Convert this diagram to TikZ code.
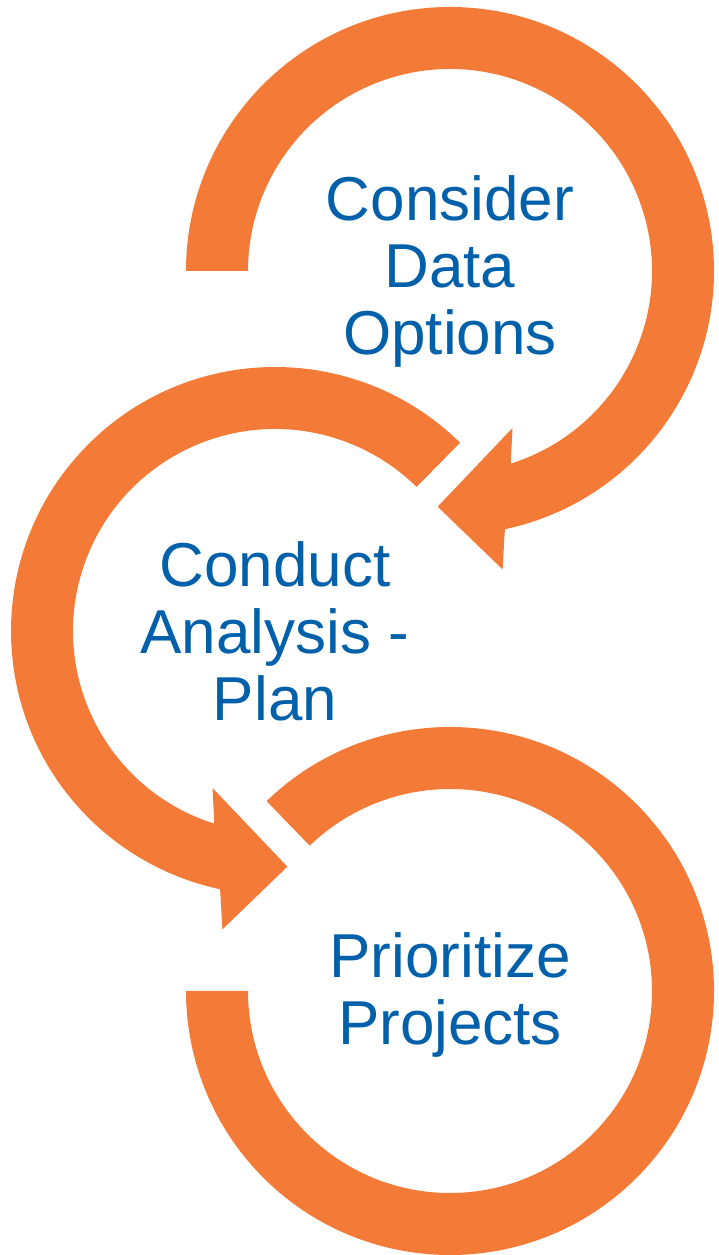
\documentclass[tikz,border=0pt]{standalone}
\usepackage{xcolor}
\usepackage{fontspec}
\setmainfont{Liberation Sans}
\usepackage{tikz}

\definecolor{ringorange}{HTML}{F47A37}
\definecolor{stepblue}{HTML}{0060A9}

\begin{document}
\begin{tikzpicture}[
    x=1pt, y=1pt,
    ringarrow/.style={fill=ringorange, draw=none},
    steplabel/.style={text=stepblue, align=center, inner sep=0pt,
        font=\fontsize{62}{67}\selectfont}
]
\useasboundingbox (0,0) rectangle (718,1255);

% Centres of the three rings
\coordinate (c1) at (450,984);
\coordinate (c2) at (275,624);
\coordinate (c3) at (450,264);

% Ring 1: clockwise, arrow head at the lower right
\begin{scope}[shift={(c1)}]
\fill[ringarrow] (180:264) arc[start angle=180, end angle=-78, radius=264]
    -- (-80:303) -- (-93:236) -- (-68.3:169) -- (-72.5:202)
    arc[start angle=-72.5, end angle=180, radius=202] -- cycle;
\end{scope}

% Ring 2: anticlockwise, arrow head at the bottom
\begin{scope}[shift={(c2)}]
\fill[ringarrow] (45.5:264) arc[start angle=45.5, end angle=258, radius=264]
    -- (260:303) -- (273:236) -- (248.3:169) -- (252.5:202)
    arc[start angle=252.5, end angle=45.5, radius=202] -- cycle;
\end{scope}

% Ring 3: no head
\begin{scope}[shift={(c3)}]
\fill[ringarrow] (134:264) arc[start angle=134, end angle=-180, radius=264]
    -- (-180:202) arc[start angle=-180, end angle=134, radius=202] -- cycle;
\end{scope}

% Labels
\node[steplabel] (consider) at (c1) {Consider\\Data\\Options};
\node[steplabel] (conduct) at (c2) {Conduct\\Analysis -\\Plan};
\node[steplabel, yshift=-4] (prioritize) at (c3) {Prioritize\\Projects};
\end{tikzpicture}
\end{document}
